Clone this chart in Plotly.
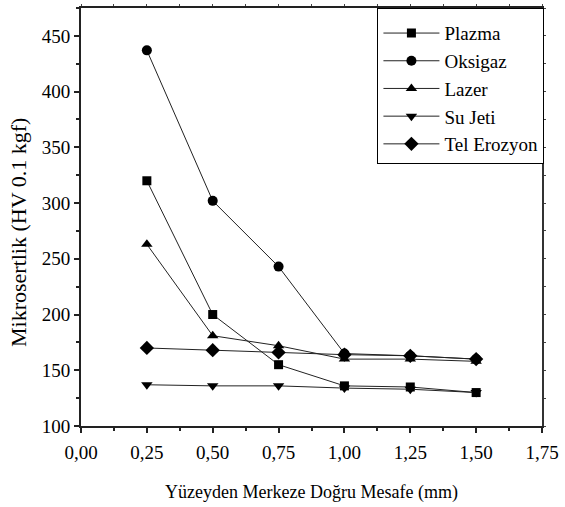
import plotly.graph_objects as go

# Distance from surface towards centre (mm)
mesafe = [0.25, 0.50, 0.75, 1.00, 1.25, 1.50]

# Microhardness (HV 0.1 kgf) for each cutting method
plazma = [320, 200, 155, 136, 135, 130]
oksigaz = [437, 302, 243, 165, 163, 160]
lazer = [263, 181, 172, 160, 160, 158]
su_jeti = [137, 136, 136, 134, 133, 130]
tel_erozyon = [170, 168, 166, 164, 163, 160]

series = [
    ("Plazma", plazma, "square", 9),
    ("Oksigaz", oksigaz, "circle", 10),
    ("Lazer", lazer, "triangle-up", 10),
    ("Su Jeti", su_jeti, "triangle-down", 10),
    ("Tel Erozyon", tel_erozyon, "diamond", 11),
]

x_ticks = [0.0, 0.25, 0.5, 0.75, 1.0, 1.25, 1.5, 1.75]
x_labels = ["0,00", "0,25", "0,50", "0,75", "1,00", "1,25", "1,50", "1,75"]
y_ticks = [100, 150, 200, 250, 300, 350, 400, 450]

FONT = "Liberation Serif"
X_RANGE = [0, 1.75]
Y_RANGE = [100, 475]

fig = go.Figure()
for name, vals, sym, size in series:
    fig.add_trace(go.Scatter(
        x=mesafe, y=vals, name=name, mode="lines+markers",
        legendgroup=name,
        line=dict(color="#222222", width=1),
        marker=dict(symbol=sym, size=size, color="black"),
    ))

# empty trace so the top/right frame axes get drawn
fig.add_trace(go.Scatter(x=[], y=[], xaxis="x2", yaxis="y2",
                         showlegend=False, hoverinfo="skip"))

axis_common = dict(
    showgrid=False, zeroline=False, showline=True, linecolor="#222222",
    linewidth=2, ticks="outside", ticklen=5, tickwidth=1.5, tickcolor="#222222",
    tickfont=dict(family=FONT, size=19, color="black"),
)

fig.update_layout(
    width=565, height=507,
    margin=dict(l=81, r=18, t=6, b=81),
    paper_bgcolor="white", plot_bgcolor="white",
    font=dict(family=FONT, size=19, color="black"),
    xaxis=dict(
        range=X_RANGE, tickvals=x_ticks, ticktext=x_labels,
        minor=dict(dtick=0.125, tick0=0, ticks="outside", ticklen=3,
                   tickwidth=1.5, tickcolor="#222222"),
        title=dict(text="Yüzeyden Merkeze Doğru Mesafe (mm)",
                   font=dict(family=FONT, size=18), standoff=24),
        ticklabelstandoff=3,
        **axis_common,
    ),
    yaxis=dict(
        range=Y_RANGE, tickvals=y_ticks,
        minor=dict(dtick=25, tick0=100, ticks="outside", ticklen=3,
                   tickwidth=1.5, tickcolor="#222222"),
        **axis_common,
    ),
    xaxis2=dict(
        overlaying="x", side="top", range=X_RANGE, dtick=0.125, tick0=0,
        showticklabels=False, showgrid=False, zeroline=False,
        showline=True, linecolor="#222222", linewidth=2,
        ticks="outside", ticklen=2, tickwidth=1, tickcolor="#444444",
    ),
    yaxis2=dict(
        overlaying="y", side="right", range=Y_RANGE, dtick=25, tick0=100,
        showticklabels=False, showgrid=False, zeroline=False,
        showline=True, linecolor="#333333", linewidth=2,
        ticks="outside", ticklen=2, tickwidth=1, tickcolor="#444444",
    ),
    legend=dict(
        x=0.643, y=1.0, xanchor="left", yanchor="top",
        bordercolor="black", borderwidth=1, bgcolor="white",
        font=dict(family=FONT, size=19, color="black"),
        title=dict(text=" ", font=dict(size=4)),
        tracegroupgap=0, itemwidth=56,
    ),
    annotations=[dict(
        text="Mikrosertlik (HV 0.1 kgf)", textangle=-90,
        xref="paper", yref="paper", x=-0.137, y=0.4637,
        xanchor="center", yanchor="middle", showarrow=False,
        font=dict(family=FONT, size=22, color="black"),
    )],
)

fig.write_html("out.html")
